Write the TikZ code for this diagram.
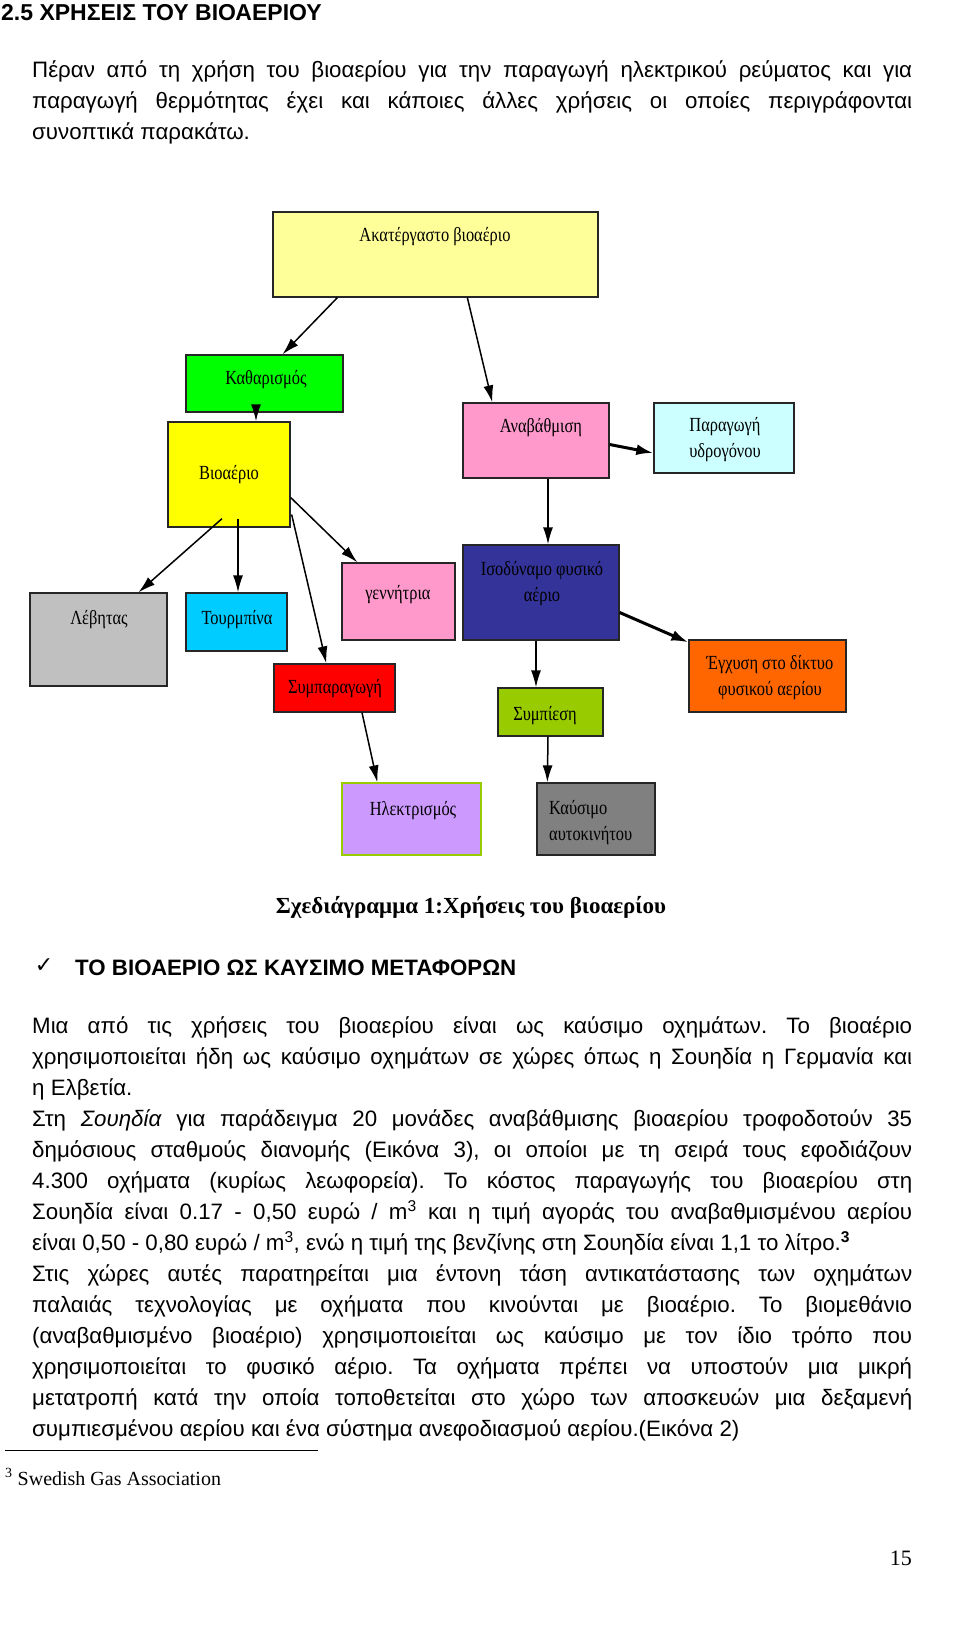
\documentclass[tikz,border=0pt]{standalone}
\usepackage{fontspec}
\setmainfont{Liberation Serif}
\setsansfont{Liberation Sans}
\newfontfamily\boxfont[FakeStretch=0.82]{Liberation Serif}
\newfontfamily\symfont{DejaVu Sans}
\usetikzlibrary{calc}
\usetikzlibrary{positioning}
\usetikzlibrary{arrows.meta}
\frenchspacing

\definecolor{rawyellow}{HTML}{FFFF99}
\definecolor{cleangreen}{HTML}{00FF00}
\definecolor{bioyellow}{HTML}{FFFF00}
\definecolor{pinkbox}{HTML}{FF99CC}
\definecolor{icecyan}{HTML}{CCFFFF}
\definecolor{silverbox}{HTML}{C0C0C0}
\definecolor{skycyan}{HTML}{00CCFF}
\definecolor{navybox}{HTML}{333399}
\definecolor{redbox}{HTML}{FF0000}
\definecolor{limebox}{HTML}{99CC00}
\definecolor{orangebox}{HTML}{FF6600}
\definecolor{lavbox}{HTML}{CC99FF}
\definecolor{greybox}{HTML}{808080}

\tikzset{
  box/.style={rectangle, draw=black!85, line width=1.3pt, inner sep=0pt},
  lbl/.style={font=\boxfont\fontsize{20}{26}\selectfont, align=center, inner sep=0pt},
  flow/.style={line width=1.5pt, -{Latex[length=17pt,width=10pt]}},
  bigflow/.style={line width=3pt, -{Latex[length=17pt,width=11pt]}},
  body/.style={font=\sffamily\fontsize{22.3}{31}\selectfont, text width=880pt, align=justify, inner sep=0pt, anchor=north west}
}

\begin{document}
\begin{tikzpicture}[x=1pt, y=-1pt]
				\useasboundingbox (0,0) rectangle (960,1643);
				
				% page text
				\node[font=\sffamily\bfseries\fontsize{23}{26}\selectfont, anchor=base west, inner sep=0pt] (head) at (1,21) {2.5 ΧΡΗΣΕΙΣ ΤΟΥ ΒΙΟΑΕΡΙΟΥ};
				\node[body] (intro) at (32,60) {Πέραν από τη χρήση του βιοαερίου για την παραγωγή ηλεκτρικού ρεύματος και για\linebreak
				παραγωγή θερμότητας έχει και κάποιες άλλες χρήσεις οι οποίες περιγράφονται\linebreak
				συνοπτικά παρακάτω.};
				
				% boxes
				\node[box, fill=rawyellow, minimum width=325pt, minimum height=85pt] (raw) at (435.5,254.5) {};
				\node[box, fill=cleangreen, minimum width=157pt, minimum height=57pt] (clean) at (264.5,383.5) {};
				\node[box, fill=bioyellow, minimum width=122pt, minimum height=105pt] (bio) at (229,474.5) {};
				\node[box, fill=pinkbox, minimum width=146pt, minimum height=75pt] (upg) at (536,440.5) {};
				\node[box, fill=icecyan, minimum width=140pt, minimum height=70pt] (hyd) at (724,438) {};
				\node[box, fill=silverbox, minimum width=137pt, minimum height=93pt] (boil) at (98.5,639.5) {};
				\node[box, fill=skycyan, minimum width=101pt, minimum height=58pt] (turb) at (236.5,622) {};
				\node[box, fill=pinkbox, minimum width=113pt, minimum height=77pt] (gen) at (398.5,601.5) {};
				\node[box, fill=navybox, minimum width=156pt, minimum height=95pt] (eqv) at (541,592.5) {};
				\node[box, fill=redbox, minimum width=121pt, minimum height=48pt] (chp) at (334.5,688) {};
				\node[box, fill=limebox, minimum width=105pt, minimum height=48pt] (comp) at (550.5,712) {};
				\node[box, fill=orangebox, minimum width=157pt, minimum height=72pt] (inj) at (767.5,676) {};
				\node[box, fill=lavbox, draw=limebox, minimum width=139pt, minimum height=72pt] (elec) at (411.5,819) {};
				\node[box, fill=greybox, minimum width=118pt, minimum height=72pt] (fuel) at (596,819) {};
				
				% box texts
				\node[lbl] (raw-t) at (435,237) {Ακατέργαστο βιοαέριο};
				\node[lbl] (clean-t) at (266,380) {Καθαρισμός};
				\node[lbl] (bio-t) at (229,475) {Βιοαέριο};
				\node[lbl] (upg-t) at (541,428) {Αναβάθμιση};
				\node[lbl] (hyd-t) at (725,440) {Παραγωγή\\υδρογόνου};
				\node[lbl] (boil-t) at (99,620) {Λέβητας};
				\node[lbl] (turb-t) at (237,620) {Τουρμπίνα};
				\node[lbl] (gen-t) at (398,595) {γεννήτρια};
				\node[lbl] (eqv-t) at (542,584) {Ισοδύναμο φυσικό\\αέριο};
				\node[lbl] (chp-t) at (335,689) {Συμπαραγωγή};
				\node[lbl] (comp-t) at (545,716) {Συμπίεση};
				\node[lbl] (inj-t) at (770,678) {Έγχυση στο δίκτυο\\φυσικού αερίου};
				\node[lbl] (elec-t) at (413,811) {Ηλεκτρισμός};
				\node[lbl, align=left, anchor=west] (fuel-t) at (549,823) {Καύσιμο\\αυτοκινήτου};
				
				% arrows
				\draw[flow] ($(raw.south west)+(65,0)$) -- ($(clean.north)+(18,0)$);
				\draw[flow] ($(raw.south west)+(195,0)$) -- ($(upg.north west)+(30,0)$);
				\draw[flow] ($(clean.south)+(-8.5,-7)$) -- ($(bio.north)+(27,0)$);
				\draw[flow] ($(bio.south)+(-7,-9)$) -- ($(boil.north)+(40,0)$);
				\draw[flow] ($(bio.south)+(9,-9)$) -- ($(turb.north)+(1.5,0)$);
				\draw[flow] ($(bio.east)+(0,23)$) -- ($(gen.north west)+(16,0)$);
				\draw[flow] ($(bio.east)+(1,40)$) -- ($(chp.north west)+(53,0)$);
				\draw[bigflow] ($(upg.east)+(0,4)$) -- ($(hyd.west)+(0,15)$);
				\draw[flow] ($(upg.south)+(12,0)$) -- ($(eqv.north)+(7,0)$);
				\draw[bigflow] ($(eqv.east)+(0,20)$) -- ($(inj.north west)+(0,3)$);
				\draw[flow] ($(eqv.south)+(-5,0)$) -- ($(comp.north)+(-14.5,0)$);
				\draw[flow] ($(chp.south)+(27.5,0)$) -- ($(elec.north west)+(36,0)$);
				\draw[flow] ($(comp.south)+(-2.5,0)$) -- ($(fuel.north west)+(11,0)$);
				
				% caption and second section
				\node[font=\bfseries\fontsize{23}{26}\selectfont, inner sep=0pt] (cap) at (471,907) {Σχεδιάγραμμα 1:Χρήσεις του βιοαερίου};
				\node[font=\symfont\fontsize{22}{24}\selectfont, inner sep=0pt] (tick) at (44,966) {✓};
				\node[font=\sffamily\bfseries\fontsize{22.3}{26}\selectfont, anchor=west, inner sep=0pt] (sec) at (75,968) {ΤΟ ΒΙΟΑΕΡΙΟ ΩΣ ΚΑΥΣΙΜΟ ΜΕΤΑΦΟΡΩΝ};
				\node[body] (main) at (32,1016) {Μια από τις χρήσεις του βιοαερίου είναι ως καύσιμο οχημάτων. Το βιοαέριο\linebreak
				χρησιμοποιείται ήδη ως καύσιμο οχημάτων σε χώρες όπως η Σουηδία η Γερμανία και\linebreak
				η Ελβετία.\par
				Στη \textit{Σουηδία} για παράδειγμα 20 μονάδες αναβάθμισης βιοαερίου τροφοδοτούν 35\linebreak
				δημόσιους σταθμούς διανομής (Εικόνα 3), οι οποίοι με τη σειρά τους εφοδιάζουν\linebreak
				4.300 οχήματα (κυρίως λεωφορεία). Το κόστος παραγωγής του βιοαερίου στη\linebreak
				Σουηδία είναι 0.17 - 0,50 ευρώ / m\textsuperscript{3} και η τιμή αγοράς του αναβαθμισμένου αερίου\linebreak
				είναι 0,50 - 0,80 ευρώ / m\textsuperscript{3}, ενώ η τιμή της βενζίνης στη Σουηδία είναι 1,1 το λίτρο.\textsuperscript{\bfseries 3}\par
				Στις χώρες αυτές παρατηρείται μια έντονη τάση αντικατάστασης των οχημάτων\linebreak
				παλαιάς τεχνολογίας με οχήματα που κινούνται με βιοαέριο. Το βιομεθάνιο\linebreak
				(αναβαθμισμένο βιοαέριο) χρησιμοποιείται ως καύσιμο με τον ίδιο τρόπο που\linebreak
				χρησιμοποιείται το φυσικό αέριο. Τα οχήματα πρέπει να υποστούν μια μικρή\linebreak
				μετατροπή κατά την οποία τοποθετείται στο χώρο των αποσκευών μια δεξαμενή\linebreak
				συμπιεσμένου αερίου και ένα σύστημα ανεφοδιασμού αερίου.(Εικόνα 2)};
				
				% footnote and page number
				\coordinate (rule-a) at (5,1450);
				\coordinate (rule-b) at (318,1450);
				\draw[line width=0.9pt] (rule-a) -- (rule-b);
				\node[font=\fontsize{20}{22}\selectfont, anchor=west, inner sep=0pt] (fn) at (5,1477) {\textsuperscript{3} Swedish Gas Association};
				\node[font=\fontsize{22}{24}\selectfont, anchor=east, inner sep=0pt] (page) at (912,1558) {15};
			\end{tikzpicture}
\end{document}
